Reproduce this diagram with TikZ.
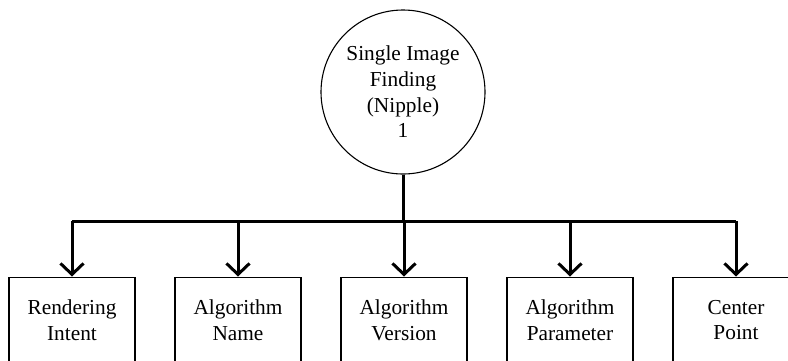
\documentclass[tikz,border=0pt]{standalone}
\usepackage{fontspec}
\setmainfont{Liberation Serif}
\usetikzlibrary{arrows.meta}
\begin{document}
\begin{tikzpicture}[x=1bp,y=-1bp,
  lbl/.style={font=\fontsize{21.4}{25.7}\selectfont, align=center, inner sep=0pt},
  topcircle/.style={lbl, draw, line width=1.1bp, circle, minimum size=164bp},
  leafbox/.style={lbl, draw, line width=1.1bp, rectangle, minimum width=126bp, minimum height=86bp},
  bus/.style={line width=3bp},
  link/.style={line width=3bp, -{Straight Barb[length=11bp,width=23bp,line width=3bp]}}
]
\clip (0,0) rectangle (788,360);
\fill[white] (0,0) rectangle (788,360);
\node[topcircle] (c) at (403,92) {Single Image\\Finding\\(Nipple)\\1};
\node[leafbox, anchor=north] (b1) at (72,276.5) {Rendering\\Intent};
\node[leafbox, anchor=north] (b2) at (238,276.5) {Algorithm\\Name};
\node[leafbox, anchor=north] (b3) at (404,276.5) {Algorithm\\Version};
\node[leafbox, anchor=north] (b4) at (570,276.5) {Algorithm\\Parameter};
\node[leafbox, anchor=north] (b5) at (736,276.5) {Center\\Point};
\coordinate (j) at (403,221);
\draw[bus] (c.south) -- (j);
\draw[bus] (b1.north |- j) -- (b5.north |- j);
\foreach \b in {b1,b2,b3,b4,b5}
  \draw[link] (\b.north |- j) -- (\b.north);
\end{tikzpicture}
\end{document}
